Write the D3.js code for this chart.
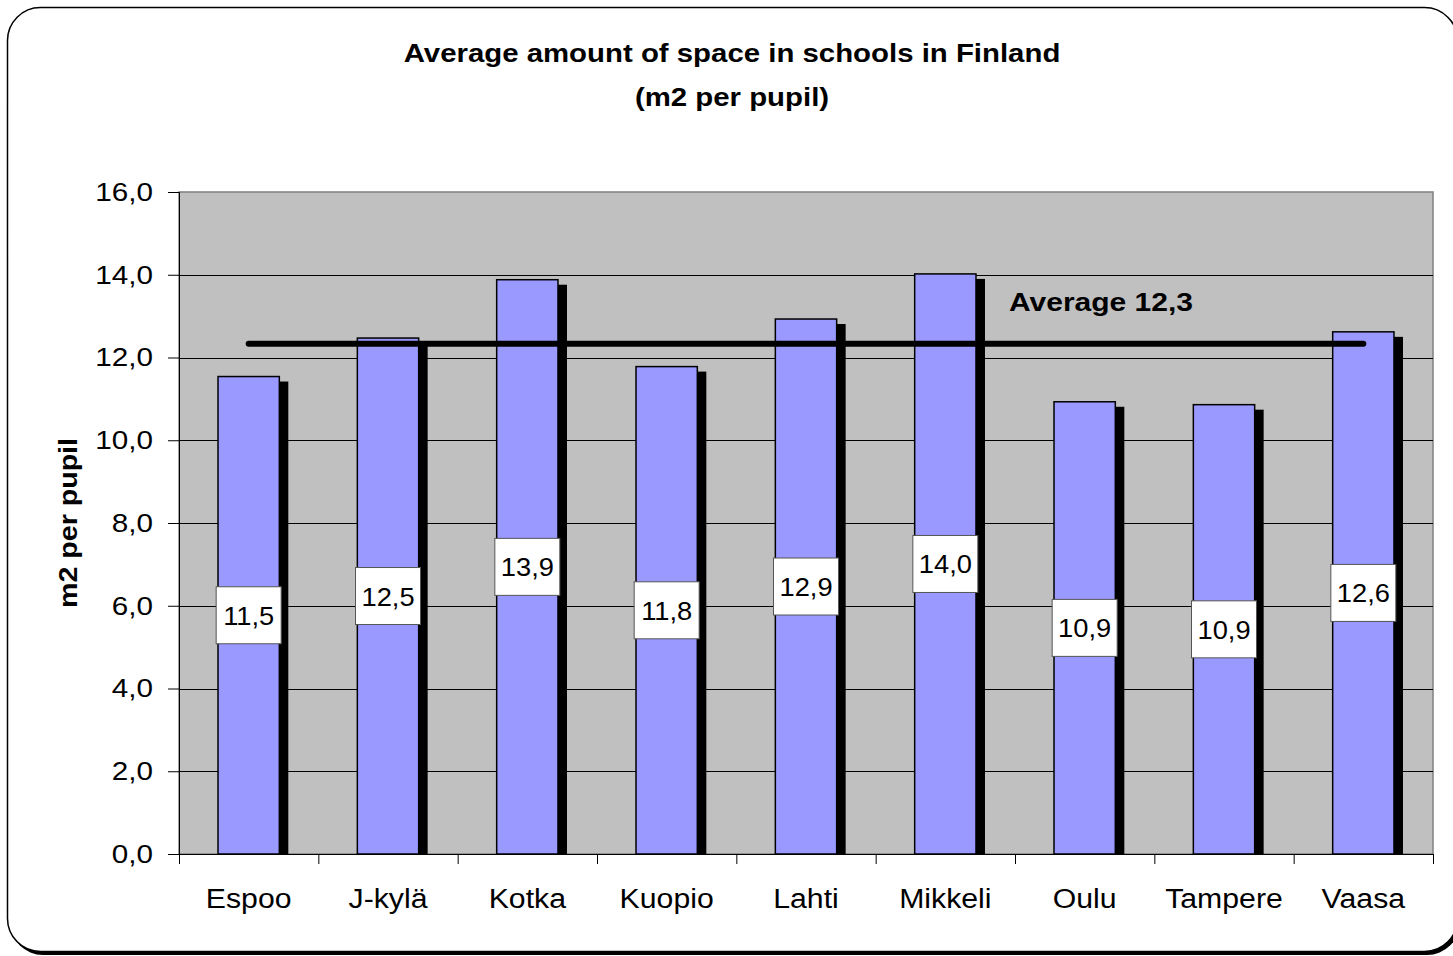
<!DOCTYPE html>
<html>
<head>
<meta charset="utf-8">
<script src="https://cdnjs.cloudflare.com/ajax/libs/d3/7.8.5/d3.min.js"></script>
<style>
  body { margin: 0; background: #fff; }
  svg text { font-family: "Liberation Sans", Arial, sans-serif; }
</style>
</head>
<body>
<script>
// data
var cities = ["Espoo", "J-kylä", "Kotka", "Kuopio", "Lahti", "Mikkeli", "Oulu", "Tampere", "Vaasa"];
var space = [11.54, 12.47, 13.88, 11.78, 12.93, 14.02, 10.93, 10.86, 12.62];
var average = 12.33;
var yTicks = [0, 2, 4, 6, 8, 10, 12, 14, 16];

var svg_w = 1453, svg_h = 956;
var svg = d3.select("body").append("svg")
  .attr("width", svg_w)
  .attr("height", svg_h);

var fmt = function(v) { return d3.format(".1f")(v).replace(".", ","); };

// text in the old chart is stretched sideways a bit
function stretchText(parent, x, y, str, size, sx, bold) {
  return parent.append("text")
    .attr("transform", "translate(" + x + "," + y + ") scale(" + sx + ",1)")
    .attr("text-anchor", "middle")
    .attr("font-size", size)
    .attr("font-weight", bold ? "bold" : null)
    .text(str);
}

// chart border with shadow
svg.append("rect")
  .attr("x", 10).attr("y", 10)
  .attr("width", 1450).attr("height", 945)
  .attr("rx", 33).attr("ry", 33)
  .attr("fill", "#000");
svg.append("rect")
  .attr("x", 7.5).attr("y", 7.5)
  .attr("width", 1450).attr("height", 944)
  .attr("rx", 33).attr("ry", 33)
  .attr("fill", "#fff")
  .attr("stroke", "#000")
  .attr("stroke-width", 1.5);

var plotL = 179, plotR = 1433, plotT = 192, plotB = 854;

var x = d3.scaleBand()
  .domain(cities)
  .range([plotL, plotR])
  .paddingInner(0.56)
  .paddingOuter(0.28);

var band = d3.scaleBand().domain(cities).range([plotL, plotR]);

var y = d3.scaleLinear()
  .domain([0, 16])
  .range([plotB, plotT]);

// plot area
svg.append("rect")
  .attr("x", plotL).attr("y", plotT)
  .attr("width", plotR - plotL).attr("height", plotB - plotT)
  .attr("fill", "#c0c0c0")
  .attr("stroke", "#808080")
  .attr("stroke-width", 1.5);

// gridlines
svg.append("g")
  .selectAll("line")
  .data(yTicks.filter(d => d > 0 && d < 16))
  .enter()
  .append("line")
  .attr("x1", plotL).attr("x2", plotR)
  .attr("y1", d => Math.round(y(d)) + 0.5)
  .attr("y2", d => Math.round(y(d)) + 0.5)
  .attr("stroke", "#000")
  .attr("stroke-width", 1);

// y axis
var yAxis = svg.append("g")
  .attr("transform", "translate(" + plotL + ",0)")
  .call(d3.axisLeft(y).tickValues(yTicks).tickFormat(fmt).tickSize(11).tickPadding(15));
yAxis.select(".domain").attr("stroke", "#000");
yAxis.selectAll("text")
  .attr("x", null)
  .attr("transform", "translate(-26,0) scale(1.12,1)")
  .attr("font-size", 26.5)
  .attr("fill", "#000");

// x axis
var xAxis = svg.append("g")
  .attr("transform", "translate(0," + plotB + ")");
xAxis.append("line")
  .attr("x1", plotL).attr("x2", plotR)
  .attr("y1", 0.5).attr("y2", 0.5)
  .attr("stroke", "#000");
xAxis.selectAll(".tk")
  .data(cities.concat(["end"]))
  .enter()
  .append("line")
  .attr("x1", (d, i) => i < cities.length ? band(d) + 0.5 : plotR + 0.5)
  .attr("x2", (d, i) => i < cities.length ? band(d) + 0.5 : plotR + 0.5)
  .attr("y1", 0).attr("y2", 10)
  .attr("stroke", "#000");
cities.forEach(function(c) {
  stretchText(xAxis, band(c) + band.bandwidth() / 2, 54, c, 27, 1.12, false);
});

// shadows
svg.append("g")
  .selectAll("rect")
  .data(cities)
  .enter()
  .append("rect")
  .attr("x", d => x(d) + 9)
  .attr("y", (d, i) => y(space[i]) + 5)
  .attr("width", x.bandwidth())
  .attr("height", (d, i) => plotB - y(space[i]) - 5)
  .attr("fill", "#000");

// bars
svg.append("g")
  .selectAll("rect")
  .data(cities)
  .enter()
  .append("rect")
  .attr("x", d => x(d))
  .attr("y", (d, i) => y(space[i]))
  .attr("width", x.bandwidth())
  .attr("height", (d, i) => plotB - y(space[i]))
  .attr("fill", "#9999ff")
  .attr("stroke", "#000")
  .attr("stroke-width", 1.5);

// average line
svg.append("line")
  .attr("x1", band(cities[0]) + band.bandwidth() / 2)
  .attr("x2", band(cities[cities.length - 1]) + band.bandwidth() / 2)
  .attr("y1", y(average)).attr("y2", y(average))
  .attr("stroke", "#000")
  .attr("stroke-width", 6)
  .attr("stroke-linecap", "round");

stretchText(svg, 1101, 311, "Average " + fmt(average), 25, 1.2, true);

// value labels
var lab = svg.append("g")
  .selectAll("g")
  .data(cities)
  .enter()
  .append("g")
  .attr("transform", (d, i) => "translate(" + (x(d) + x.bandwidth() / 2) + "," + y(space[i] / 2) + ")");
lab.append("rect")
  .attr("x", -32.5).attr("y", -28.5)
  .attr("width", 65).attr("height", 57)
  .attr("fill", "#fff")
  .attr("stroke", "#555")
  .attr("stroke-width", 1);
lab.each(function(d, i) {
  stretchText(d3.select(this), 0, 9.5, fmt(space[i]), 26, 1.05, false);
});

// titles
stretchText(svg, 732, 62, "Average amount of space in schools in Finland", 26, 1.13, true);
stretchText(svg, 732, 106, "(m2 per pupil)", 26, 1.13, true);

svg.append("text")
  .attr("transform", "translate(77,523) rotate(-90) scale(1.1,1)")
  .attr("text-anchor", "middle")
  .attr("font-size", 26)
  .attr("font-weight", "bold")
  .text("m2 per pupil");
</script>
</body>
</html>
